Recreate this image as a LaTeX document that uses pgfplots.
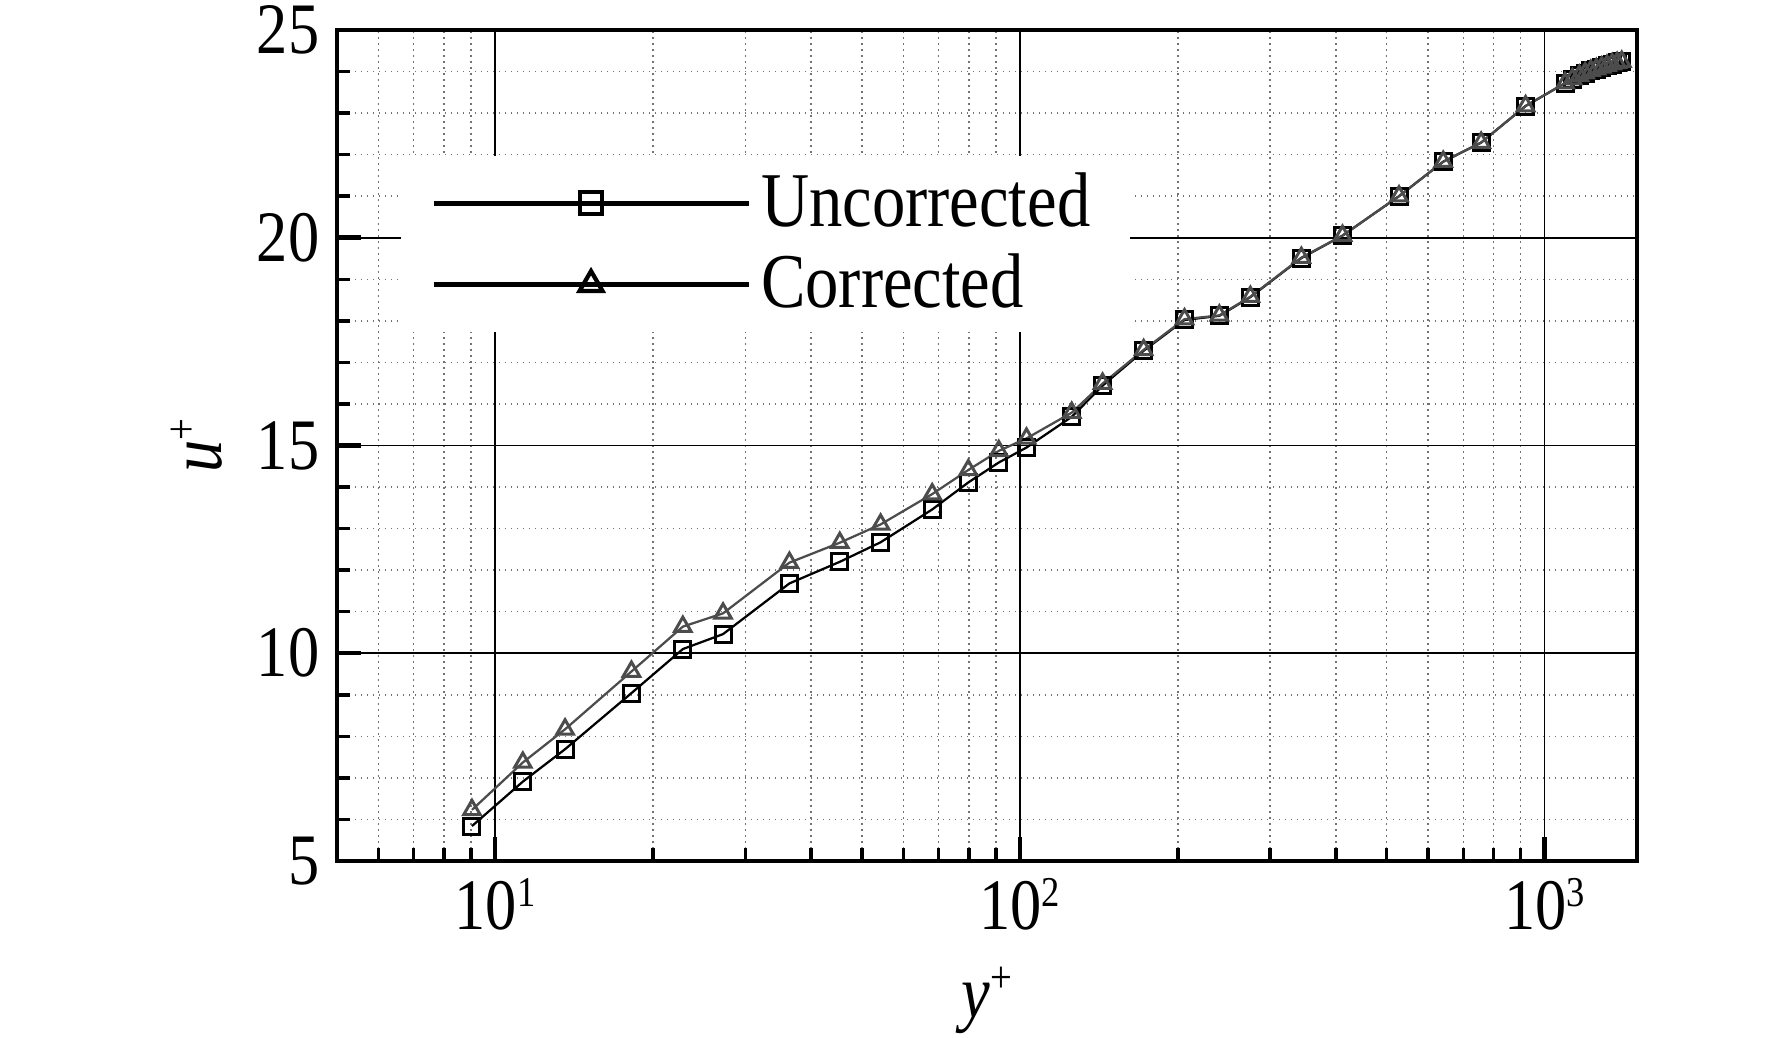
\documentclass[border=0pt]{standalone}
\usepackage{fontspec}
\setmainfont{Liberation Serif}[FakeStretch=0.86]
\usepackage{pgfplots}
\usepackage{pgfplotstable}
\pgfplotsset{compat=1.18}
\pgfplotstableread{
x u
9.04 5.84
11.3 6.91
13.6 7.69
18.2 9.04
22.8 10.10
27.2 10.46
36.4 11.68
45.4 12.20
54.3 12.67
68.1 13.46
79.8 14.11
91.2 14.59
103 14.95
125.6 15.69
143.8 16.44
172.2 17.28
206 18.02
240 18.12
275 18.57
344 19.51
412 20.05
528 21.00
641 21.83
757 22.29
920 23.17
1094 23.72
1130 23.82
1165 23.90
1195 23.96
1225 24.02
1255 24.06
1285 24.10
1315 24.14
1345 24.18
1375 24.21
1403 24.24
}\uncorr
\pgfplotstableread{
x u
9.04 6.23
11.3 7.37
13.6 8.17
18.2 9.56
22.8 10.64
27.2 10.96
36.4 12.18
45.4 12.66
54.3 13.10
68.1 13.83
79.8 14.41
91.2 14.87
103 15.17
125.6 15.79
143.8 16.49
172.2 17.30
206 18.04
240 18.13
275 18.58
344 19.52
412 20.05
528 21.00
641 21.83
757 22.29
920 23.17
1094 23.72
1130 23.82
1165 23.90
1195 23.96
1225 24.02
1255 24.06
1285 24.10
1315 24.14
1345 24.18
1375 24.21
1403 24.24
}\corr
\begin{document}
\begin{tikzpicture}
\begin{axis}[
  xmode=log, scale only axis, width=260pt, height=166.2pt,
  xmin=5, xmax=1500, ymin=5, ymax=25,
  xtick={10,100,1000},
  xticklabels={10\raisebox{4.5pt}{\fontsize{8.5}{8.5}\selectfont 1},10\raisebox{4.5pt}{\fontsize{8.5}{8.5}\selectfont 2},10\raisebox{4.5pt}{\fontsize{8.5}{8.5}\selectfont 3}},
  minor xtick={6,7,8,9,20,30,40,50,60,70,80,90,200,300,400,500,600,700,800,900},
  ytick={5,10,15,20,25},
  yticklabels={5,10,15,20,25},
  minor ytick={6,7,8,9,11,12,13,14,16,17,18,19,21,22,23,24},
  tick pos=left, tick align=inside,
  major tick length=4.8pt, minor tick length=2.6pt,
  major tick style={black, line width=0.9pt},
  minor tick style={black, line width=0.7pt},
  axis line style={black, line width=0.9pt},
  grid=both,
  major grid style={black, line width=0.35pt, solid},
  minor grid style={black!55, line width=0.3pt, dash pattern=on 0.3pt off 0.9pt},
  ticklabel style={font=\fontsize{14.5}{16}\selectfont},
  yticklabel style={inner ysep=0pt},
  xlabel={\textit{y}\raisebox{5pt}{\fontsize{9}{9}\selectfont +}},
  ylabel={\textit{u}\raisebox{5pt}{\fontsize{9}{9}\selectfont +}},
  label style={font=\fontsize{15}{16}\selectfont, inner sep=0pt},
  xlabel style={at={(axis description cs:0.5,0)}, anchor=center, yshift=-27.8pt},
  ylabel style={at={(axis description cs:0,0.5)}, anchor=center, yshift=28pt},
  legend style={at={(0.0485,0.8496)}, anchor=north west, draw=none, fill=white,
    inner xsep=6pt, inner ysep=1.3pt, font=\fontsize{15.5}{17}\selectfont,
    row sep=0pt, nodes={inner sep=2pt}},
  legend cell align=left,
  legend image code/.code={
    \draw[black,line width=1pt] (0pt,0pt) -- (63pt,0pt);
    \draw[#1,black,mark options={solid, black, line width=0.85pt, scale=1.4}] plot[only marks] coordinates {(31.5pt,0pt)};
  },
]
\addplot[black, line width=0.45pt, mark=square, mark size=1.6pt, mark options={line width=0.6pt, solid}] table[x=x,y=u] {\uncorr};
\addlegendentry{Uncorrected}
\addplot[black!70, line width=0.45pt, mark=triangle, mark size=1.9pt, mark options={line width=0.6pt, solid}] table[x=x,y=u] {\corr};
\addlegendentry{Corrected}
\end{axis}
\path ([xshift=-67.4pt,yshift=-35.4pt]current axis.south west) rectangle ([xshift=27pt,yshift=6pt]current axis.north east);
\end{tikzpicture}
\end{document}
